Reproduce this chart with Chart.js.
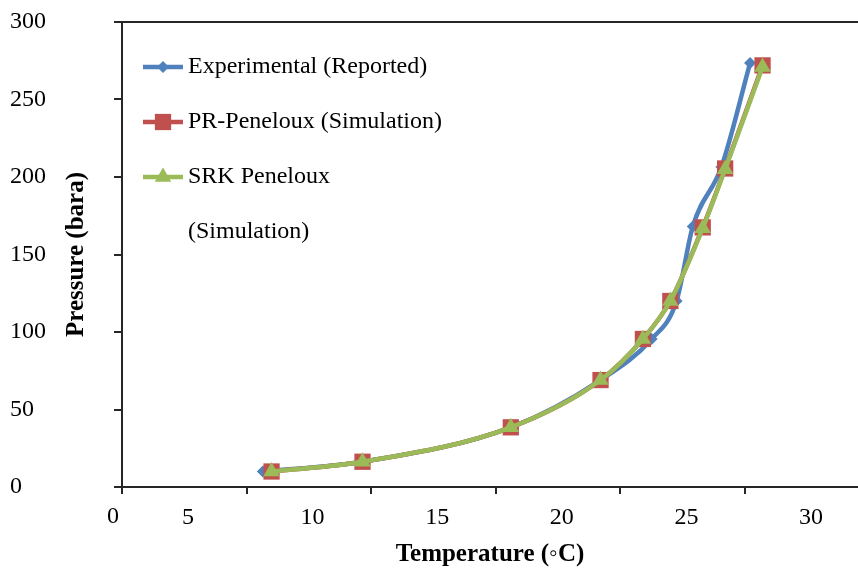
<!DOCTYPE html>
<html>
<head>
<meta charset="utf-8">
<script src="https://cdn.jsdelivr.net/npm/chart.js@4.4.0/dist/chart.umd.min.js"></script>
<style>
  html, body { margin: 0; padding: 0; background: #fff; }
</style>
</head>
<body>
<canvas id="chart" width="858" height="574"></canvas>
<script>
// hydrate curve: temperature (°C) vs pressure (bara)
const expTemp = [8.05, 12.05, 18.0, 21.6, 23.65, 24.65, 25.3, 26.45, 27.6];
const expPress = [10, 16.3, 38.5, 69, 95.5, 120, 168, 206.5, 273.5];
const prTemp = [8.4, 12.05, 18.0, 21.6, 23.3, 24.4, 25.7, 26.6, 28.1];
const prPress = [10, 16.3, 38.5, 69, 95.5, 120, 167.5, 205.5, 272];
const srkTemp = [8.4, 12.05, 18.0, 21.6, 23.3, 24.4, 25.7, 26.6, 28.1];
const srkPress = [10, 16.3, 38.5, 69, 95.5, 120, 167, 205, 271];

// axis ticks
const xMin = 2.4, xMax = 31.93;
const xTickValues = [2.4, 7.4, 12.4, 17.4, 22.4, 27.4];
const xTickLabels = ["5", "10", "15", "20", "25", "30"];

const legendLabels = [
  ["Experimental (Reported)"],
  ["PR-Peneloux (Simulation)"],
  ["SRK Peneloux", "(Simulation)"],
];

const FONT = '"Liberation Serif", "DejaVu Serif", serif';
const AXIS = "#262626";

function toPoints(xs, ys) {
  return xs.map((x, i) => ({ x: x, y: ys[i] }));
}

// ? marker shapes for the legend
function drawMarker(ctx, style, x, y, r) {
  ctx.beginPath();
  if (style === "rectRot") {
    ctx.moveTo(x, y - r);
    ctx.lineTo(x + r, y);
    ctx.lineTo(x, y + r);
    ctx.lineTo(x - r, y);
  } else if (style === "rect") {
    const s = r * Math.SQRT1_2;
    ctx.rect(x - s, y - s, 2 * s, 2 * s);
  } else {
    ctx.moveTo(x, y - r);
    ctx.lineTo(x + r * 0.866, y + r * 0.5);
    ctx.lineTo(x - r * 0.866, y + r * 0.5);
  }
  ctx.closePath();
  ctx.fill();
}

const decorPlugin = {
  id: "decor",
  afterDraw(chart) {
    const { ctx, chartArea } = chart;
    ctx.save();
    // top frame
    ctx.strokeStyle = AXIS;
    ctx.lineWidth = 2;
    ctx.beginPath();
    ctx.moveTo(chartArea.left - 1, chartArea.top);
    ctx.lineTo(chartArea.right, chartArea.top);
    ctx.stroke();

    // origin label on the x axis
    ctx.fillStyle = "#000";
    ctx.font = "24px " + FONT;
    ctx.textAlign = "center";
    ctx.textBaseline = "middle";
    ctx.fillText("0", chartArea.left - 9, chartArea.bottom + 30);

    // legend inside the plot
    let rowY = chartArea.top + 45;
    chart.data.datasets.forEach((ds, i) => {
      const x0 = chartArea.left + 21;
      const x1 = x0 + 40;
      ctx.strokeStyle = ds.borderColor;
      ctx.lineWidth = 4.5;
      ctx.beginPath();
      ctx.moveTo(x0, rowY);
      ctx.lineTo(x1, rowY);
      ctx.stroke();
      ctx.fillStyle = ds.pointBackgroundColor;
      drawMarker(ctx, ds.pointStyle, (x0 + x1) / 2, rowY, ds.pointRadius);
      ctx.fillStyle = "#000";
      ctx.textAlign = "left";
      legendLabels[i].forEach((line) => {
        ctx.fillText(line, x1 + 5, rowY);
        rowY += 55;
      });
    });
    ctx.restore();
  },
};

const ctx = document.getElementById("chart").getContext("2d");
const chart = new Chart(ctx, {
  type: "line",
  data: {
    datasets: [
      {
        label: "Experimental (Reported)",
        data: toPoints(expTemp, expPress),
        borderColor: "#4F81BD",
        pointBackgroundColor: "#4F81BD",
        pointBorderColor: "#4F81BD",
        pointStyle: "rectRot",
        pointRadius: 6,
        order: 3,
      },
      {
        label: "PR-Peneloux (Simulation)",
        data: toPoints(prTemp, prPress),
        borderColor: "#C0504D",
        pointBackgroundColor: "#C0504D",
        pointBorderColor: "#C0504D",
        pointStyle: "rect",
        pointRadius: 11.5,
        order: 2,
      },
      {
        label: "SRK Peneloux (Simulation)",
        data: toPoints(srkTemp, srkPress),
        borderColor: "#9BBB59",
        pointBackgroundColor: "#9BBB59",
        pointBorderColor: "#9BBB59",
        pointStyle: "triangle",
        pointRadius: 9.5,
        order: 1,
      },
    ],
  },
  options: {
    responsive: false,
    animation: false,
    layout: { autoPadding: false, padding: { left: 10, top: 22, right: 0, bottom: 0 } },
    elements: {
      line: { borderWidth: 4.5, cubicInterpolationMode: "monotone", fill: false },
      point: { borderWidth: 0, hoverRadius: 6 },
    },
    plugins: {
      legend: { display: false },
      tooltip: { enabled: false },
    },
    scales: {
      x: {
        type: "linear",
        min: xMin,
        max: xMax,
        afterBuildTicks(scale) {
          scale.ticks = xTickValues.map((v) => ({ value: v }));
        },
        afterFit(scale) {
          scale.height = 87;
          scale.paddingLeft = 0;
          scale.paddingRight = 0;
        },
        grid: { drawOnChartArea: false, tickLength: 7, color: AXIS, lineWidth: 2 },
        border: { color: AXIS, width: 2 },
        ticks: {
          callback: (v, i) => xTickLabels[i],
          labelOffset: 66,
          padding: 9,
          autoSkip: false,
          maxRotation: 0,
          color: "#000",
          font: { family: FONT, size: 24 },
        },
        title: {
          display: true,
          text: "Temperature (◦C)",
          color: "#000",
          font: { family: FONT, size: 25, weight: "bold" },
          padding: { top: 0, bottom: 4 },
        },
      },
      y: {
        min: 0,
        max: 300,
        afterFit(scale) {
          scale.width = 112;
        },
        grid: { drawOnChartArea: false, tickLength: 8, color: AXIS, lineWidth: 2 },
        border: { color: AXIS, width: 2 },
        ticks: {
          stepSize: 50,
          crossAlign: "far",
          color: "#000",
          font: { family: FONT, size: 24 },
        },
        title: {
          display: true,
          text: "Pressure (bara)",
          color: "#000",
          font: { family: FONT, size: 25, weight: "bold" },
          padding: { top: 52, bottom: 0 },
        },
      },
    },
  },
  plugins: [decorPlugin],
});
</script>
</body>
</html>
